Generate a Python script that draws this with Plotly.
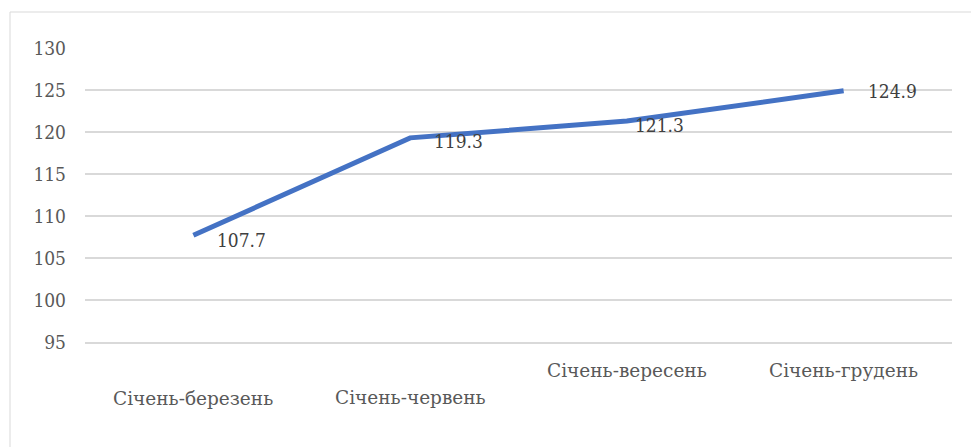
import plotly.graph_objects as go

# Cumulative index values by period
periods = ["Січень-березень", "Січень-червень", "Січень-вересень", "Січень-грудень"]
values = [107.7, 119.3, 121.3, 124.9]
y_ticks = [95, 100, 105, 110, 115, 120, 125, 130]

# label placement tweaks (pixels)
label_dx = [22, 22, 6, 22]
label_dy = [-5, -3, -4, 0]
cat_dy = [-56, -55, -28, -28]

TEXT = "#595959"
GRID = "#d9d9d9"
SERIF_C = "DejaVu Serif Condensed, DejaVu Serif"
SERIF = "DejaVu Serif"

fig = go.Figure()
fig.add_trace(go.Scatter(
    x=periods, y=values, mode="lines",
    line=dict(color="#4472C4", width=5),
    hoverinfo="skip", showlegend=False,
))

for p, v, dx, dy in zip(periods, values, label_dx, label_dy):
    fig.add_annotation(
        x=p, y=v, text=f"{v:.1f}", showarrow=False,
        xanchor="left", yanchor="middle", xshift=dx, yshift=dy,
        font=dict(family=SERIF_C, size=19, color="#404040"),
    )

for p, dy in zip(periods, cat_dy):
    fig.add_annotation(
        x=p, y=0, xref="x", yref="paper", text=p, showarrow=False,
        xanchor="center", yanchor="middle", yshift=dy,
        font=dict(family=SERIF, size=18.5, color=TEXT),
    )

# outer chart border
fig.add_shape(
    type="rect", xref="paper", yref="paper",
    x0=-0.0865, x1=1.05, y0=-0.4, y1=1.1224,
    line=dict(color=GRID, width=1), fillcolor="rgba(0,0,0,0)",
)

fig.update_layout(
    width=971, height=447,
    margin=dict(l=85, r=19, t=48, b=105),
    paper_bgcolor="white", plot_bgcolor="white",
)
fig.update_xaxes(
    showticklabels=False, showgrid=False, zeroline=False,
    showline=True, linecolor=GRID, linewidth=2,
    range=[-0.5, 3.5],
)
fig.update_yaxes(
    range=[95, 130], tickvals=y_ticks, showgrid=True, gridcolor=GRID,
    gridwidth=2, zeroline=False, showline=False,
    tickfont=dict(family=SERIF_C, size=19, color=TEXT),
    ticklabelstandoff=18,
)

fig.write_html("out.html")
